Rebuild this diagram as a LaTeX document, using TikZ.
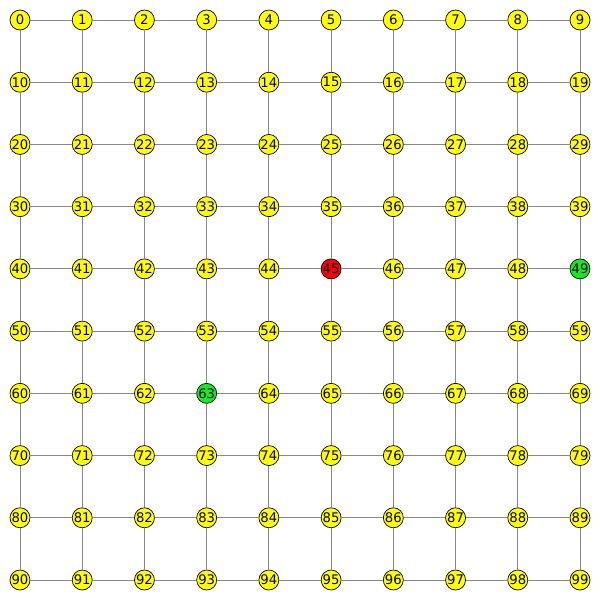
\documentclass[tikz,border=0pt]{standalone}
\usepackage{fontspec}
\setmainfont{DejaVu Sans}
\usetikzlibrary{positioning}
\definecolor{CellYellow}{HTML}{FFFF00}
\definecolor{StartRed}{HTML}{FF0000}
\definecolor{GoalGreen}{HTML}{11EE22}
\definecolor{LinkGray}{HTML}{888888}

\tikzset{
    cell/.style={circle, draw=black, line width=0.5pt, minimum size=0.5cm, inner sep=0pt, font=\fontsize{9.4}{10}\selectfont},
    link/.style={draw=LinkGray, line width=0.7pt}
}

\begin{document}
\begin{tikzpicture}[x=1.5556cm, y=-1.5556cm]
        \useasboundingbox (-0.3214,-0.3214) rectangle (9.3214,9.3214);

        % Grid cells
        \foreach \r in {0,...,9} {
            \foreach \c in {0,...,9} {
                \pgfmathtruncatemacro\k{10*\r+\c}
                \def\cellcol{CellYellow}
                \ifnum\k=45 \def\cellcol{StartRed}\fi
                \ifnum\k=49 \def\cellcol{GoalGreen}\fi
                \ifnum\k=63 \def\cellcol{GoalGreen}\fi
                \node[cell, fill=\cellcol] (n\k) at (\c,\r) {\k};
            }
        }

        % Horizontal and vertical links
        \foreach \r in {0,...,9} {
            \foreach \c in {0,...,8} {
                \pgfmathtruncatemacro\a{10*\r+\c}
                \pgfmathtruncatemacro\b{\a+1}
                \draw[link] (n\a) -- (n\b);
            }
        }
        \foreach \r in {0,...,8} {
            \foreach \c in {0,...,9} {
                \pgfmathtruncatemacro\a{10*\r+\c}
                \pgfmathtruncatemacro\b{\a+10}
                \draw[link] (n\a) -- (n\b);
            }
        }
    \end{tikzpicture}
\end{document}
